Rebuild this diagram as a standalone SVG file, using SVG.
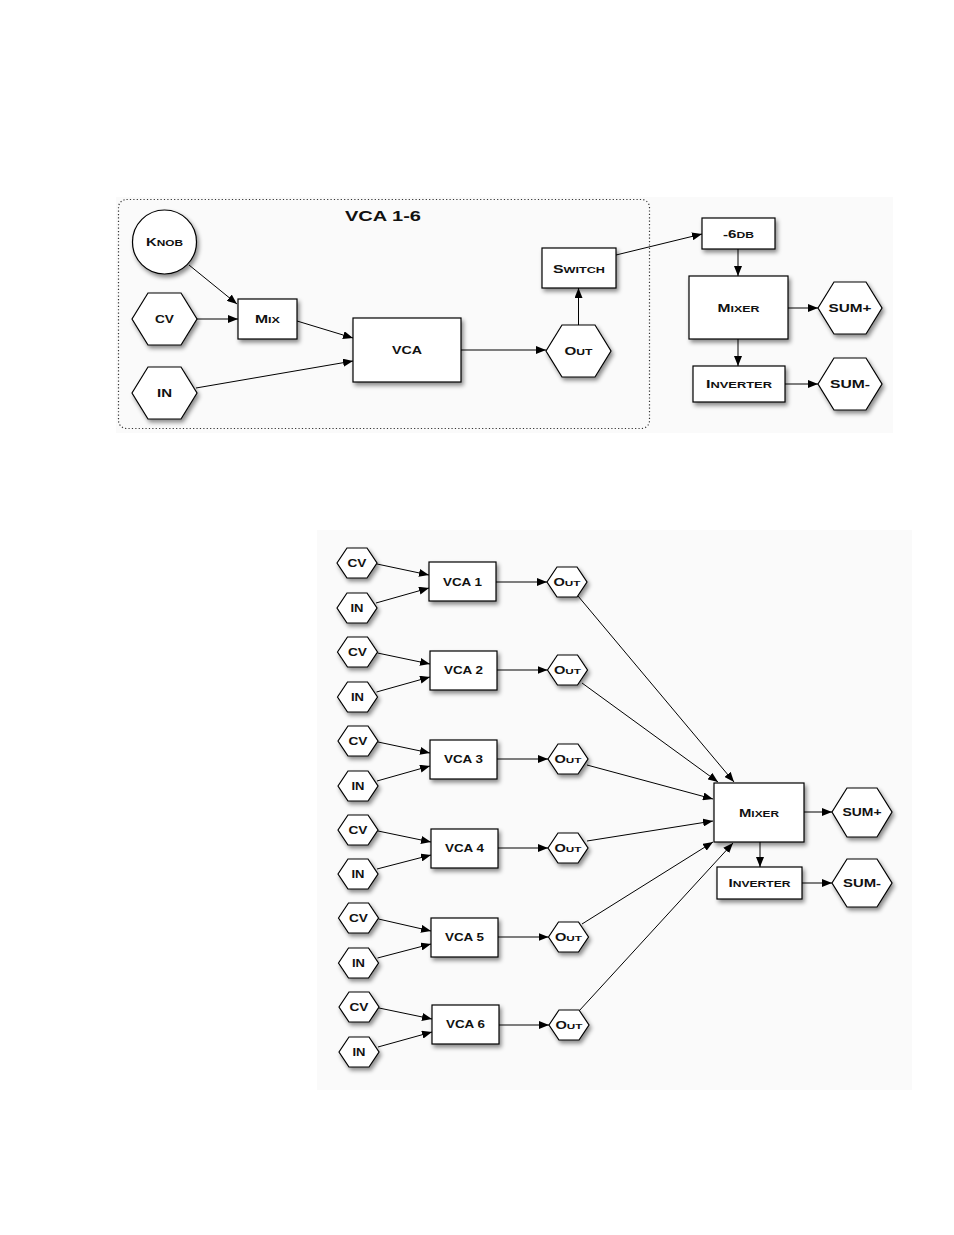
<svg xmlns="http://www.w3.org/2000/svg" width="954" height="1235" viewBox="0 0 954 1235">
<defs>
<style>
.panel{fill:#fafafa;stroke:none}
.node{fill:#fff;stroke:#000;stroke-width:1.2;filter:url(#sh)}
.t{font-family:"Liberation Sans",Arial,sans-serif;font-weight:bold;fill:#111;text-anchor:middle}
.sc{font-size:0.8em;text-transform:uppercase}
.t12{font-size:11.5px}
.t11{font-size:10.5px}
.t9{font-size:10px}
.title{font-size:15.5px}
.e{fill:none;stroke:#000;stroke-width:1;marker-end:url(#ah)}
.dot{fill:none;stroke:#333;stroke-width:1.2;stroke-dasharray:1.2 2.2}
</style>
<filter id="sh" x="-30%" y="-30%" width="160%" height="160%">
<feDropShadow dx="2" dy="3" stdDeviation="2" flood-color="#000" flood-opacity="0.45"/>
</filter>
<marker id="ah" markerUnits="userSpaceOnUse" markerWidth="10" markerHeight="8" refX="10" refY="4" orient="auto">
<path d="M0,0 L10,4 L0,8 z" fill="#000"/>
</marker>
</defs>
<rect class="panel" x="116" y="197" width="777" height="236"/>
<rect class="panel" x="317" y="530" width="595" height="560"/>

<g id="top-container">
<rect class="dot" x="118.5" y="199.5" width="531" height="229" rx="8"/>
<text class="t title" x="383" y="221" textLength="76" lengthAdjust="spacingAndGlyphs">VCA 1-6</text>
</g>

<g id="connectors-top">
<line class="e" x1="189" y1="265" x2="237" y2="304"/>
<line class="e" x1="197" y1="319" x2="238" y2="319"/>
<line class="e" x1="297" y1="321" x2="353" y2="338"/>
<line class="e" x1="196" y1="388" x2="353" y2="361"/>
<line class="e" x1="461" y1="350" x2="546" y2="350"/>
<line class="e" x1="578.5" y1="325" x2="578.5" y2="288"/>
<line class="e" x1="616" y1="255" x2="702" y2="234"/>
<line class="e" x1="738" y1="249" x2="738" y2="276"/>
<line class="e" x1="788" y1="308" x2="818" y2="308"/>
<line class="e" x1="738" y1="339" x2="738" y2="366"/>
<line class="e" x1="785" y1="384" x2="818" y2="384"/>
</g>

<g id="knob"><circle class="node" cx="164.5" cy="242" r="32"/><text class="t t12" x="164.5" y="246" textLength="37" lengthAdjust="spacingAndGlyphs">K<tspan class="sc">nob</tspan></text></g>
<g id="cv-top"><polygon class="node" points="132,319 148,293 181,293 197,319 181,345 148,345"/><text class="t t12" x="164.5" y="323" textLength="19" lengthAdjust="spacingAndGlyphs">CV</text></g>
<g id="in-top"><polygon class="node" points="132,393 148,367 181,367 197,393 181,419 148,419"/><text class="t t12" x="164.5" y="397" textLength="15" lengthAdjust="spacingAndGlyphs">IN</text></g>
<g id="mix"><rect class="node" x="238" y="299" width="59" height="40"/><text class="t t12" x="267.5" y="323" textLength="25" lengthAdjust="spacingAndGlyphs">M<tspan class="sc">ix</tspan></text></g>
<g id="vca-top"><rect class="node" x="353" y="318" width="108" height="64"/><text class="t t12" x="407" y="354" textLength="30" lengthAdjust="spacingAndGlyphs">VCA</text></g>
<g id="out-top"><polygon class="node" points="546,351 562,325 595,325 611,351 595,377 562,377"/><text class="t t12" x="578.5" y="355" textLength="28" lengthAdjust="spacingAndGlyphs">O<tspan class="sc">ut</tspan></text></g>
<g id="switch"><rect class="node" x="542" y="248" width="74" height="40"/><text class="t t12" x="579" y="272.5" textLength="52" lengthAdjust="spacingAndGlyphs">S<tspan class="sc">witch</tspan></text></g>
<g id="minus6db"><rect class="node" x="702" y="218" width="73" height="31"/><text class="t t12" x="738.5" y="238" textLength="31" lengthAdjust="spacingAndGlyphs">-6<tspan class="sc">dB</tspan></text></g>
<g id="mixer-top"><rect class="node" x="689" y="276" width="99" height="63"/><text class="t t12" x="738.5" y="312" textLength="42" lengthAdjust="spacingAndGlyphs">M<tspan class="sc">ixer</tspan></text></g>
<g id="inverter-top"><rect class="node" x="693" y="366" width="92" height="36"/><text class="t t12" x="739" y="388" textLength="66" lengthAdjust="spacingAndGlyphs">I<tspan class="sc">nverter</tspan></text></g>
<g id="sumplus-top"><polygon class="node" points="818,308 834,282 866,282 882,308 866,334 834,334"/><text class="t t12" x="850" y="312" textLength="43" lengthAdjust="spacingAndGlyphs">SUM+</text></g>
<g id="summinus-top"><polygon class="node" points="818,384 834,358 866,358 882,384 866,410 834,410"/><text class="t t12" x="850" y="388" textLength="40" lengthAdjust="spacingAndGlyphs">SUM-</text></g>

<g id="connectors-bottom">
<line class="e" x1="377" y1="564" x2="429" y2="575"/>
<line class="e" x1="376" y1="603" x2="429" y2="588"/>
<line class="e" x1="496" y1="582" x2="547" y2="582"/>
<line class="e" x1="377.5" y1="653" x2="430" y2="664"/>
<line class="e" x1="376.5" y1="692" x2="430" y2="677"/>
<line class="e" x1="497" y1="670" x2="547.5" y2="670"/>
<line class="e" x1="378" y1="742" x2="430" y2="753"/>
<line class="e" x1="377" y1="781" x2="430" y2="766"/>
<line class="e" x1="497" y1="759" x2="548" y2="759"/>
<line class="e" x1="378" y1="831" x2="431" y2="842"/>
<line class="e" x1="377" y1="869" x2="431" y2="855"/>
<line class="e" x1="498" y1="848" x2="548" y2="848"/>
<line class="e" x1="378.5" y1="919" x2="431" y2="931"/>
<line class="e" x1="377.5" y1="958" x2="431" y2="944"/>
<line class="e" x1="498" y1="937" x2="548.5" y2="937"/>
<line class="e" x1="379" y1="1008" x2="432" y2="1019"/>
<line class="e" x1="378" y1="1047" x2="432" y2="1032"/>
<line class="e" x1="499" y1="1025" x2="549" y2="1025"/>
<line class="e" x1="578" y1="596" x2="734" y2="782"/>
<line class="e" x1="582" y1="683" x2="718" y2="782"/>
<line class="e" x1="587" y1="765" x2="713" y2="799"/>
<line class="e" x1="587" y1="841" x2="713" y2="821"/>
<line class="e" x1="582" y1="924" x2="713" y2="842"/>
<line class="e" x1="579" y1="1011" x2="733" y2="843"/>
<line class="e" x1="804" y1="812" x2="832" y2="812"/>
<line class="e" x1="760" y1="842" x2="760" y2="867"/>
<line class="e" x1="802" y1="883" x2="832" y2="883"/>
</g>

<g id="cv1"><polygon class="node" points="337,563 347,548 367,548 377,563 367,578 347,578"/><text class="t t9" x="357" y="566.5" textLength="19" lengthAdjust="spacingAndGlyphs">CV</text></g>
<g id="in1"><polygon class="node" points="337,608 347,593 367,593 377,608 367,623 347,623"/><text class="t t9" x="357" y="611.5" textLength="13" lengthAdjust="spacingAndGlyphs">IN</text></g>
<g id="vca1"><rect class="node" x="429" y="562" width="67" height="39"/><text class="t t11" x="462.5" y="585.5" textLength="39" lengthAdjust="spacingAndGlyphs">VCA 1</text></g>
<g id="out1"><polygon class="node" points="547,582 557,567 577,567 587,582 577,597 557,597"/><text class="t t9" x="567" y="585.5" textLength="27" lengthAdjust="spacingAndGlyphs">O<tspan class="sc">ut</tspan></text></g>

<g id="cv2"><polygon class="node" points="337.5,652 347.5,637 367.5,637 377.5,652 367.5,667 347.5,667"/><text class="t t9" x="357.5" y="655.5" textLength="19" lengthAdjust="spacingAndGlyphs">CV</text></g>
<g id="in2"><polygon class="node" points="337.5,697 347.5,682 367.5,682 377.5,697 367.5,712 347.5,712"/><text class="t t9" x="357.5" y="700.5" textLength="13" lengthAdjust="spacingAndGlyphs">IN</text></g>
<g id="vca2"><rect class="node" x="430" y="651" width="67" height="39"/><text class="t t11" x="463.5" y="674" textLength="39" lengthAdjust="spacingAndGlyphs">VCA 2</text></g>
<g id="out2"><polygon class="node" points="547.5,670 557.5,655 577.5,655 587.5,670 577.5,685 557.5,685"/><text class="t t9" x="567.5" y="673.5" textLength="27" lengthAdjust="spacingAndGlyphs">O<tspan class="sc">ut</tspan></text></g>

<g id="cv3"><polygon class="node" points="338,741 348,726 368,726 378,741 368,756 348,756"/><text class="t t9" x="358" y="744.5" textLength="19" lengthAdjust="spacingAndGlyphs">CV</text></g>
<g id="in3"><polygon class="node" points="338,786 348,771 368,771 378,786 368,801 348,801"/><text class="t t9" x="358" y="789.5" textLength="13" lengthAdjust="spacingAndGlyphs">IN</text></g>
<g id="vca3"><rect class="node" x="430" y="740" width="67" height="39"/><text class="t t11" x="463.5" y="763" textLength="39" lengthAdjust="spacingAndGlyphs">VCA 3</text></g>
<g id="out3"><polygon class="node" points="548,759 558,744 578,744 588,759 578,774 558,774"/><text class="t t9" x="568" y="762.5" textLength="27" lengthAdjust="spacingAndGlyphs">O<tspan class="sc">ut</tspan></text></g>

<g id="cv4"><polygon class="node" points="338,830 348,815 368,815 378,830 368,845 348,845"/><text class="t t9" x="358" y="833.5" textLength="19" lengthAdjust="spacingAndGlyphs">CV</text></g>
<g id="in4"><polygon class="node" points="338,874 348,859 368,859 378,874 368,889 348,889"/><text class="t t9" x="358" y="877.5" textLength="13" lengthAdjust="spacingAndGlyphs">IN</text></g>
<g id="vca4"><rect class="node" x="431" y="829" width="67" height="39"/><text class="t t11" x="464.5" y="852" textLength="39" lengthAdjust="spacingAndGlyphs">VCA 4</text></g>
<g id="out4"><polygon class="node" points="548,848 558,833 578,833 588,848 578,863 558,863"/><text class="t t9" x="568" y="851.5" textLength="27" lengthAdjust="spacingAndGlyphs">O<tspan class="sc">ut</tspan></text></g>

<g id="cv5"><polygon class="node" points="338.5,918 348.5,903 368.5,903 378.5,918 368.5,933 348.5,933"/><text class="t t9" x="358.5" y="921.5" textLength="19" lengthAdjust="spacingAndGlyphs">CV</text></g>
<g id="in5"><polygon class="node" points="338.5,963 348.5,948 368.5,948 378.5,963 368.5,978 348.5,978"/><text class="t t9" x="358.5" y="966.5" textLength="13" lengthAdjust="spacingAndGlyphs">IN</text></g>
<g id="vca5"><rect class="node" x="431" y="918" width="67" height="39"/><text class="t t11" x="464.5" y="941" textLength="39" lengthAdjust="spacingAndGlyphs">VCA 5</text></g>
<g id="out5"><polygon class="node" points="548.5,937 558.5,922 578.5,922 588.5,937 578.5,952 558.5,952"/><text class="t t9" x="568.5" y="940.5" textLength="27" lengthAdjust="spacingAndGlyphs">O<tspan class="sc">ut</tspan></text></g>

<g id="cv6"><polygon class="node" points="339,1007 349,992 369,992 379,1007 369,1022 349,1022"/><text class="t t9" x="359" y="1010.5" textLength="19" lengthAdjust="spacingAndGlyphs">CV</text></g>
<g id="in6"><polygon class="node" points="339,1052 349,1037 369,1037 379,1052 369,1067 349,1067"/><text class="t t9" x="359" y="1055.5" textLength="13" lengthAdjust="spacingAndGlyphs">IN</text></g>
<g id="vca6"><rect class="node" x="432" y="1005" width="67" height="39"/><text class="t t11" x="465.5" y="1028" textLength="39" lengthAdjust="spacingAndGlyphs">VCA 6</text></g>
<g id="out6"><polygon class="node" points="549,1025 559,1010 579,1010 589,1025 579,1040 559,1040"/><text class="t t9" x="569" y="1028.5" textLength="27" lengthAdjust="spacingAndGlyphs">O<tspan class="sc">ut</tspan></text></g>

<g id="mixer-bottom"><rect class="node" x="714" y="783" width="90" height="59"/><text class="t t11" x="759" y="816.5" textLength="40" lengthAdjust="spacingAndGlyphs">M<tspan class="sc">ixer</tspan></text></g>
<g id="inverter-bottom"><rect class="node" x="717" y="867" width="85" height="32"/><text class="t t11" x="759.5" y="887" textLength="62" lengthAdjust="spacingAndGlyphs">I<tspan class="sc">nverter</tspan></text></g>
<g id="sumplus-bottom"><polygon class="node" points="832,812 847,788 877,788 892,812 877,837 847,837"/><text class="t t11" x="862" y="816" textLength="39" lengthAdjust="spacingAndGlyphs">SUM+</text></g>
<g id="summinus-bottom"><polygon class="node" points="832,883 847,859 877,859 892,883 877,907 847,907"/><text class="t t11" x="862" y="887" textLength="38" lengthAdjust="spacingAndGlyphs">SUM-</text></g>
</svg>
